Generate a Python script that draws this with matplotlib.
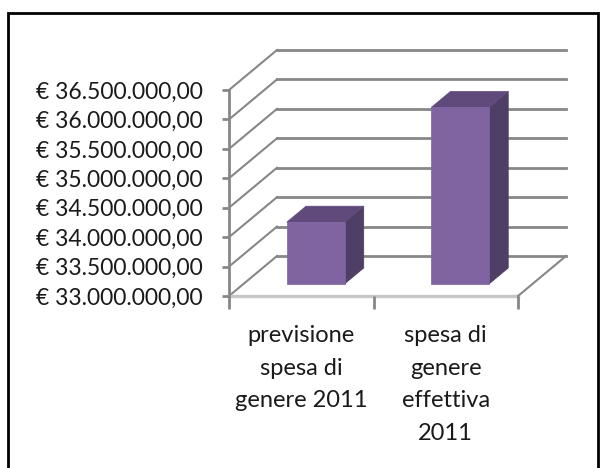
import matplotlib.pyplot as plt
from matplotlib.patches import Polygon, Rectangle
from matplotlib.ticker import FuncFormatter

# Data.
categories = ['previsione\nspesa di\ngenere 2011', 'spesa di\ngenere\neffettiva\n2011']
values = [34050000, 36000000]
y_ticks = [33000000, 33500000, 34000000, 34500000, 35000000, 35500000, 36000000, 36500000]

plt.rcParams['font.family'] = ['Lato', 'DejaVu Sans']

front_col = '#8064a2'
top_col = '#604a7b'
side_col = '#4f3f66'
grid_col = '#878787'


def euro(v, pos=None):
    s = '{:,.2f}'.format(v).replace(',', 'X').replace('.', ',').replace('X', '.')
    return '\u20ac ' + s


fig = plt.figure(figsize=(6.03, 4.68), dpi=100)
ax = fig.add_axes([229 / 603, 1 - 296 / 468, 289 / 603, 206 / 468])
ax.set_xlim(0, len(categories))
ax.set_ylim(y_ticks[0], y_ticks[-1])

# Depth offset of the 3D box, in data units (48 px right, 40 px up).
bb = ax.get_window_extent()
DX = 48 * len(categories) / bb.width
DY = 40 * (y_ticks[-1] - y_ticks[0]) / bb.height
base = y_ticks[0]

# Back wall gridlines and left wall diagonals.
for v in y_ticks:
    ax.plot([DX, len(categories) + DX], [v + DY, v + DY], color=grid_col, lw=2, clip_on=False, zorder=1)
    ax.plot([0, DX], [v, v + DY], color=grid_col, lw=1.5, clip_on=False, zorder=1)
# Floor.
ax.plot([0, len(categories)], [base, base], color='#c8c8c8', lw=2.5, clip_on=False, zorder=1)
ax.plot([len(categories), len(categories) + DX], [base, base + DY], color=grid_col, lw=1.5, clip_on=False, zorder=1)

# 3D bars.
d0, d1 = 0.3, 0.7
for i, v in enumerate(values):
    x0, x1 = i + 0.3, i + 0.7
    front = [(x0 + d0 * DX, base + d0 * DY), (x1 + d0 * DX, base + d0 * DY),
             (x1 + d0 * DX, v + d0 * DY), (x0 + d0 * DX, v + d0 * DY)]
    top = [(x0 + d0 * DX, v + d0 * DY), (x1 + d0 * DX, v + d0 * DY),
           (x1 + d1 * DX, v + d1 * DY), (x0 + d1 * DX, v + d1 * DY)]
    side = [(x1 + d0 * DX, base + d0 * DY), (x1 + d1 * DX, base + d1 * DY),
            (x1 + d1 * DX, v + d1 * DY), (x1 + d0 * DX, v + d0 * DY)]
    for pts, c in [(side, side_col), (top, top_col), (front, front_col)]:
        ax.add_patch(Polygon(pts, closed=True, facecolor=c, edgecolor=c, lw=0.5, clip_on=False, zorder=3))

# Axes styling.
for s in ['top', 'right', 'bottom']:
    ax.spines[s].set_visible(False)
ax.spines['left'].set_color(grid_col)
ax.spines['left'].set_linewidth(2)
ax.set_yticks(y_ticks)
ax.yaxis.set_major_formatter(FuncFormatter(euro))
ax.tick_params(axis='y', colors=grid_col, labelcolor='#1a1a1a', length=5, width=2, labelsize=16.5, pad=14)

ax.set_xticks(range(len(categories) + 1))
ax.set_xticklabels([])
ax.set_xticks([i + 0.5 for i in range(len(categories))], minor=True)
ax.set_xticklabels(categories, minor=True, fontsize=17, linespacing=1.68, color='#1a1a1a')
ax.tick_params(axis='x', which='major', colors=grid_col, length=9, width=2)
ax.tick_params(axis='x', which='minor', length=0, pad=21)
ax.set_facecolor('none')

# Outer chart frame.
fig.patches.append(Rectangle((8 / 603, -0.1), 590 / 603, (468 - 13) / 468 + 0.1,
                             transform=fig.transFigure, fill=False, lw=2, ec='black'))

fig.savefig('out.png', dpi=100)
